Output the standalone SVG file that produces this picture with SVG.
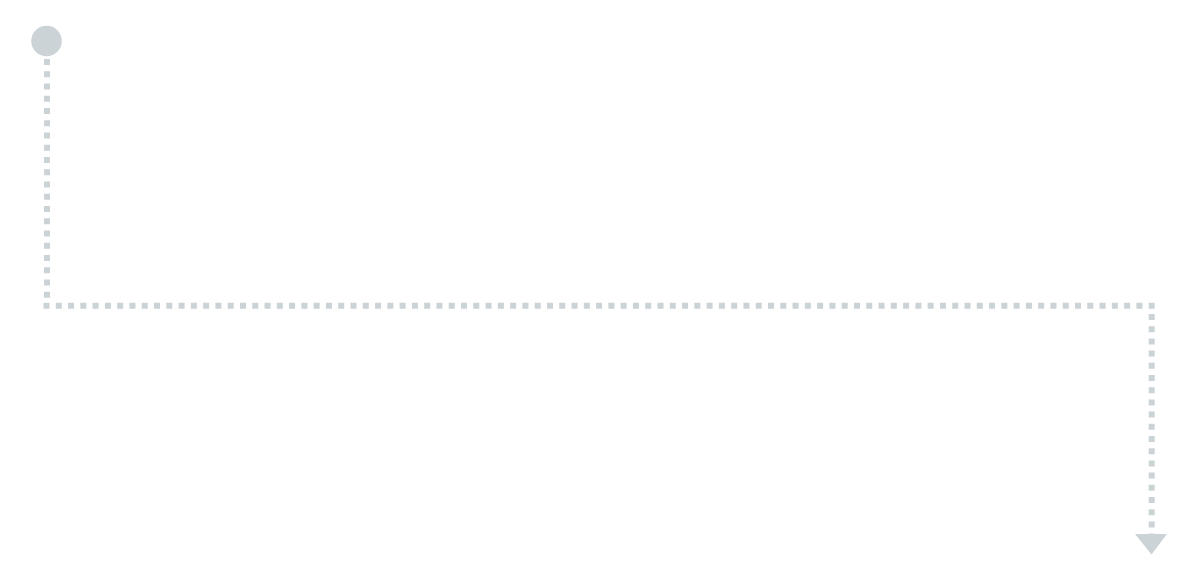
<svg xmlns="http://www.w3.org/2000/svg" width="1198" height="581" viewBox="0 0 1198 581">
<style>
.conn{fill:none;stroke:#cbd3d6;stroke-width:6;stroke-linecap:butt}
.shape{fill:#cbd3d6;stroke:none}
</style>
<rect x="0" y="0" width="1198" height="581" fill="#ffffff"/>
<g id="connectors">
<line class="conn" x1="47" y1="59" x2="47" y2="300" stroke-dasharray="6 6.25"/>
<line class="conn" x1="43.5" y1="305.7" x2="1155" y2="305.7" stroke-dasharray="6 6.28"/>
<line class="conn" x1="1151.7" y1="314" x2="1151.7" y2="536" stroke-dasharray="6 6.2"/>
</g>
<g id="start">
<circle class="shape" cx="46.5" cy="41" r="15.3"/>
</g>
<g id="end">
<polygon class="shape" points="1135,534 1167,534 1151.5,554.5"/>
</g>
</svg>
